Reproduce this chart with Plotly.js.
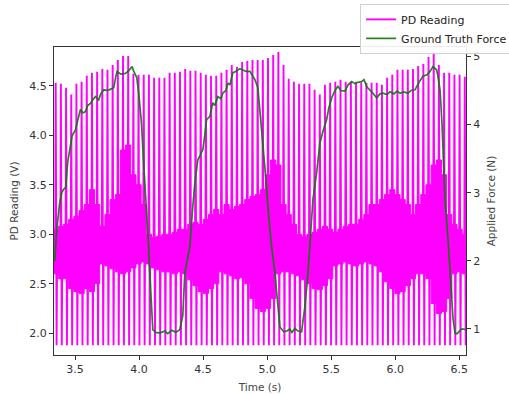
<!DOCTYPE html>
<html>
<head>
<meta charset="utf-8">
<script src="https://cdn.plot.ly/plotly-3.0.1.min.js"></script>
<style>
html,body{margin:0;padding:0;background:#fff;}
#chart{width:509px;height:394px;}
</style>
</head>
<body>
<div id="chart"></div>
<script>
// ---- PD Reading (V): one sample burst per spike, sampled at a fixed rate ----
const spikeStart = 3.3493;      // s, time of first spike
const spikePeriod = 0.04042;    // s, spacing between spikes
const pdBottom = 1.879;         // V, clipped lower level of every spike

const pdTop = [4.53,4.52,4.48,4.41,4.52,4.54,4.60,4.63,4.64,4.67,
               4.66,4.71,4.76,4.80,4.80,4.62,4.61,4.61,4.61,4.58,
               4.58,4.58,4.63,4.63,4.64,4.67,4.65,4.65,4.63,4.61,
               4.60,4.60,4.63,4.66,4.71,4.69,4.74,4.75,4.76,4.76,
               4.76,4.78,4.81,4.84,4.71,4.57,4.54,4.52,4.52,4.52,
               4.46,4.41,4.51,4.53,4.54,4.56,4.54,4.54,4.54,4.53,
               4.53,4.53,4.53,4.51,4.58,4.61,4.66,4.66,4.66,4.67,
               4.70,4.72,4.79,4.83,4.71,4.63,4.63,4.61,4.61,4.59];

const pdBandHigh = [3.05,3.08,3.10,3.15,3.18,3.24,3.30,3.45,3.30,3.08,
                    3.20,3.35,3.40,3.85,3.90,3.60,3.50,3.30,3.00,2.97,
                    2.98,3.00,3.00,3.02,3.05,3.05,3.10,3.12,3.10,3.15,
                    3.20,3.25,3.20,3.30,3.25,3.28,3.30,3.35,3.38,3.40,
                    3.45,3.60,3.75,3.70,3.30,3.20,3.10,3.00,2.98,3.00,
                    3.02,3.05,3.08,3.05,3.02,3.05,3.08,3.10,3.10,3.15,
                    3.20,3.30,3.30,3.35,3.40,3.45,3.40,3.35,3.30,3.20,
                    3.30,3.40,3.50,3.70,3.75,3.60,3.20,3.10,3.05,3.00];

const pdBandLow = [2.60,2.55,2.55,2.45,2.42,2.40,2.45,2.42,2.50,2.70,
                   2.68,2.65,2.62,2.60,2.62,2.66,2.70,2.72,2.70,2.66,
                   2.64,2.62,2.62,2.60,2.62,2.60,2.54,2.48,2.42,2.40,
                   2.45,2.50,2.62,2.60,2.58,2.55,2.56,2.50,2.35,2.25,
                   2.22,2.25,2.35,2.60,2.62,2.62,2.60,2.58,2.54,2.50,
                   2.45,2.44,2.48,2.55,2.68,2.70,2.72,2.70,2.68,2.70,
                   2.72,2.70,2.68,2.62,2.52,2.45,2.40,2.42,2.48,2.55,
                   2.60,2.60,2.55,2.30,2.20,2.22,2.35,2.60,2.62,2.60];

// ---- Ground Truth Force (N) ----
const forceTime = [3.3415,3.3571,3.3805,3.3962,3.4117,3.4274,3.4430,3.4587,3.4766,3.5032,
                   3.5212,3.5423,3.5602,3.5813,3.5993,3.6204,3.6383,3.6594,3.6852,3.7008,
                   3.7243,3.7555,3.7790,3.8024,3.8180,3.8282,3.8571,3.8938,3.9196,3.9454,
                   3.9587,3.9821,3.9977,4.0188,4.0368,4.0579,4.0719,4.0837,4.0969,4.1071,
                   4.1305,4.1618,4.2009,4.2243,4.2555,4.2868,4.3180,4.3415,4.3571,4.3962,
                   4.4196,4.4352,4.4587,4.4977,4.5133,4.5266,4.5524,4.5758,4.5915,4.6149,
                   4.6383,4.6540,4.6774,4.6930,4.7087,4.7321,4.7555,4.7868,4.8102,4.8337,
                   4.8649,4.9040,4.9274,4.9430,4.9665,4.9899,5.0055,5.0290,5.0602,5.0837,
                   5.0993,5.1305,5.1540,5.1774,5.1930,5.2165,5.2399,5.2688,5.2790,5.2946,
                   5.3180,5.3337,5.3571,5.3860,5.4118,5.4352,5.4641,5.4821,5.5032,5.5290,
                   5.5524,5.5758,5.6071,5.6305,5.6594,5.6852,5.7087,5.7376,5.7555,5.7790,
                   5.8024,5.8258,5.8547,5.8805,5.9040,5.9352,5.9587,5.9899,6.0134,6.0368,
                   6.0680,6.0993,6.1227,6.1540,6.1852,6.2165,6.2477,6.2712,6.2946,6.3102,
                   6.3235,6.3337,6.3493,6.3649,6.3884,6.4118,6.4352,6.4508,6.4665,6.4821,
                   6.5055,6.5212,6.5524];
const forceValue = [2.00,2.45,2.85,3.00,3.05,3.08,3.45,3.63,3.83,3.92,
                    4.05,4.22,4.17,4.19,4.28,4.31,4.36,4.41,4.36,4.45,
                    4.51,4.50,4.52,4.54,4.70,4.78,4.74,4.75,4.79,4.85,
                    4.78,4.69,4.45,4.02,3.40,2.80,2.30,1.82,1.20,0.99,
                    0.95,0.94,0.97,0.93,0.98,0.95,0.99,1.20,1.82,2.21,
                    2.80,3.14,3.48,3.63,3.85,4.07,4.12,4.32,4.28,4.41,
                    4.38,4.46,4.50,4.61,4.58,4.76,4.78,4.82,4.80,4.78,
                    4.78,4.66,4.54,4.20,3.78,3.20,2.80,2.30,1.82,1.30,
                    1.03,0.96,0.97,1.00,0.95,1.01,0.97,0.96,1.10,1.33,
                    1.80,2.31,2.90,3.29,3.73,3.90,4.07,4.25,4.39,4.50,
                    4.56,4.50,4.49,4.58,4.63,4.60,4.62,4.63,4.66,4.55,
                    4.51,4.46,4.39,4.45,4.46,4.44,4.48,4.45,4.49,4.46,
                    4.48,4.46,4.50,4.51,4.62,4.71,4.73,4.78,4.85,4.82,
                    4.80,4.70,4.51,4.00,2.90,2.31,1.60,1.15,0.94,0.93,
                    0.98,1.00,0.99];

// ---- build traces from the arrays ----
const spikeTimes = pdTop.map((_, i) => spikeStart + i * spikePeriod);
const n = pdTop.length;

// dense noisy middle band drawn as a filled envelope (one step per spike)
const bandX = [spikeTimes[0] - spikePeriod / 2].concat(spikeTimes, [spikeTimes[n - 1] + spikePeriod / 2]);
const bandHi = [pdBandHigh[0]].concat(pdBandHigh, [pdBandHigh[n - 1]]);
const bandLo = [pdBandLow[0]].concat(pdBandLow, [pdBandLow[n - 1]]);
const bandPolyX = bandX.concat(bandX.slice().reverse());
const bandPolyY = bandHi.concat(bandLo.slice().reverse());

// spikes: rise to the top, fall to the clipped bottom, return to the band
const pdX = [], pdY = [];
for (let i = 0; i < n; i++) {
  const mid = (pdBandHigh[i] + pdBandLow[i]) / 2;
  const t = spikeTimes[i];
  pdX.push(t - 0.004, t, t + 0.007, t + 0.011);
  pdY.push(mid, pdTop[i], pdBottom, mid);
}

const magenta = '#ff00ff';
const font = 'DejaVu Sans, Arial, sans-serif';

const data = [
  {x: bandPolyX, y: bandPolyY, type: 'scatter', mode: 'lines', fill: 'toself',
   fillcolor: magenta, line: {color: magenta, width: 1, shape: 'hvh'}, showlegend: false,
   hoverinfo: 'skip', xaxis: 'x', yaxis: 'y'},
  {x: pdX, y: pdY, type: 'scatter', mode: 'lines', name: 'PD Reading',
   line: {color: magenta, width: 1.9}, xaxis: 'x', yaxis: 'y'},
  {x: forceTime, y: forceValue, type: 'scatter', mode: 'lines', name: 'Ground Truth Force',
   line: {color: 'rgba(10,120,10,0.9)', width: 1.7}, xaxis: 'x', yaxis: 'y2'}
];

const axisCommon = {
  showgrid: false, zeroline: false, showline: true, linecolor: '#333', linewidth: 1,
  ticks: 'outside', ticklen: 4, tickwidth: 1, tickcolor: '#333',
  tickfont: {family: font, size: 11, color: '#333'}
};

const layout = {
  width: 509, height: 394,
  margin: {l: 54, r: 43, t: 47, b: 39, autoexpand: false},
  paper_bgcolor: '#fff', plot_bgcolor: '#fff',
  font: {family: font, size: 11, color: '#333'},
  xaxis: Object.assign({}, axisCommon, {
    range: [3.336, 6.552], tick0: 3.5, dtick: 0.5, tickformat: '.1f', mirror: true,
    title: {text: 'Time (s)', font: {family: font, size: 10.5, color: '#444'}, standoff: 8}
  }),
  yaxis: Object.assign({}, axisCommon, {
    range: [1.78, 4.891], tick0: 2.0, dtick: 0.5, tickformat: '.1f',
    title: {text: 'PD Reading (V)', font: {family: font, size: 10.5, color: '#444'}, standoff: 8}
  }),
  yaxis2: Object.assign({}, axisCommon, {
    range: [0.618, 5.138], tick0: 1, dtick: 1, overlaying: 'y', side: 'right',
    title: {text: 'Applied Force (N)', font: {family: font, size: 10.5, color: '#444'}, standoff: 8}
  }),
  showlegend: true,
  legend: {
    x: 0.743, y: 1.14, xanchor: 'left', yanchor: 'top',
    bgcolor: 'rgba(255,255,255,0.9)', bordercolor: '#d0d0d0', borderwidth: 1,
    font: {family: font, size: 11, color: '#222'}, tracegroupgap: 0, itemwidth: 30
  }
};

Plotly.newPlot('chart', data, layout, {displayModeBar: false, staticPlot: true});
</script>
</body>
</html>
